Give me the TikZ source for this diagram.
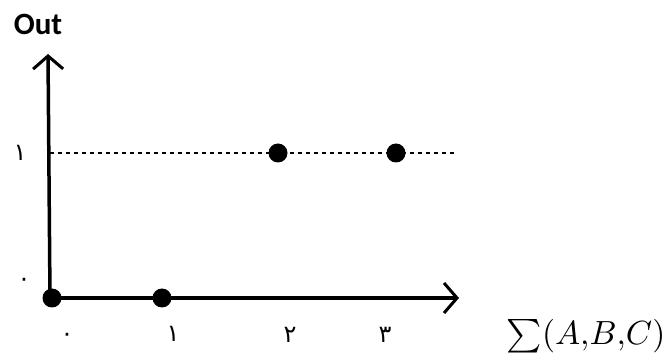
\documentclass[tikz,border=0pt]{standalone}
\usepackage{fontspec}
\usetikzlibrary{arrows.meta}
\newfontfamily\fadigits[Script=Arabic]{DejaVu Sans}
\newfontfamily\labfont{Carlito}
\begin{document}
\begin{tikzpicture}[x=1pt,y=-1pt,
  axisline/.style={line width=3.5pt, -{Straight Barb[length=13pt,width=30pt,line width=3pt]}},
  dotnode/.style={circle, fill=black, inner sep=0pt, minimum size=19pt},
  digit/.style={font=\fadigits\fontsize{24}{24}\selectfont, inner sep=0pt},
  guide/.style={line width=1.8pt, dash pattern=on 4pt off 4pt}]
\useasboundingbox (0,0) rectangle (670,363);
% axes
\coordinate (O) at (50,298);
\coordinate (ytip) at (48,54);
\coordinate (xtip) at (459,298);
\draw[axisline] (O) -- (ytip);
\draw[axisline] (O) -- (xtip);
% dashed guide at level 1
\coordinate (g0) at (50,153);
\coordinate (g1) at (457,153);
\draw[guide] (g0) -- (g1);
% points
\node[dotnode] (p0) at (52,298) {};
\node[dotnode] (p1) at (162,298) {};
\node[dotnode] (p2) at (278,153) {};
\node[dotnode] (p3) at (396,153) {};
% labels
\node[font=\labfont\bfseries\fontsize{31}{31}\selectfont, inner sep=0pt] (out) at (38,24) {Out};
\node[digit] (y1) at (20,153) {۱};
\node[digit] (y0) at (24,282) {۰};
\node[digit] (x0) at (67,337) {۰};
\node[digit] (x1) at (173,334) {۱};
\node[digit] (x2) at (290,335) {۲};
\node[digit] (x3) at (385,335) {۳};
\node[inner sep=0pt, scale=3.35] (sum) at (586,336) {$\sum(A,\!B,\!C)$};
\end{tikzpicture}
\end{document}
